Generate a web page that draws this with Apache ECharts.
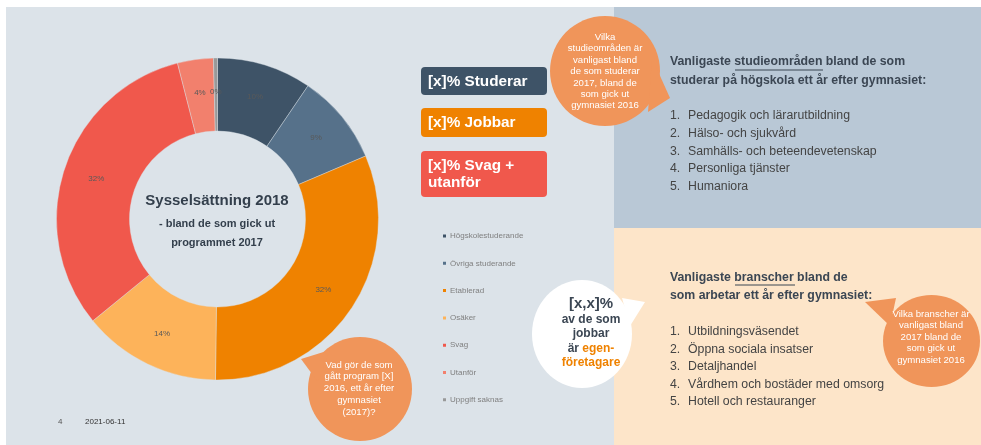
<!DOCTYPE html>
<html>
<head>
<meta charset="utf-8">
<script src="https://cdn.jsdelivr.net/npm/echarts@6/dist/echarts.min.js"></script>
<style>
html, body { margin: 0; padding: 0; background: #fff; }
#chart { width: 981px; height: 445px; }
</style>
</head>
<body>
<div id="chart"></div>
<script>
// data
const categories = ['Högskolestuderande', 'Övriga studerande', 'Etablerad', 'Osäker', 'Svag', 'Utanför', 'Uppgift saknas'];
const shares = [9.5, 9.1, 31.6, 13.9, 31.9, 3.6, 0.4];
const colors = ['#3e5367', '#56718a', '#ef8200', '#fdb35a', '#f0584c', '#f2806d', '#999999'];

const summaryBoxes = ['[x]% Studerar', '[x]% Jobbar', '[x]% Svag +\nutanför'];
const boxColors = ['#3e5367', '#ef8200', '#f0584c'];

const studyHeading = ['Vanligaste studieområden bland de som', 'studerar på högskola ett år efter gymnasiet:'];
const studyAreas = ['Pedagogik och lärarutbildning', 'Hälso- och sjukvård', 'Samhälls- och beteendevetenskap', 'Personliga tjänster', 'Humaniora'];
const industryHeading = ['Vanligaste branscher bland de', 'som arbetar ett år efter gymnasiet:'];
const industries = ['Utbildningsväsendet', 'Öppna sociala insatser', 'Detaljhandel', 'Vårdhem och bostäder med omsorg', 'Hotell och restauranger'];

const bubbleTop = 'Vilka\nstudieområden är\nvanligast bland\nde som studerar\n2017, bland de\nsom gick ut\ngymnasiet 2016';
const bubbleLeft = 'Vad gör de som\ngått program [X]\n2016, ett år efter\ngymnasiet\n(2017)?';
const bubbleRight = 'Vilka branscher är\nvanligast bland\n2017 bland de\nsom gick ut\ngymnasiet 2016';

const FONT = '"Liberation Sans", Arial, sans-serif';
const DARK = '#3b4653';
const BUBBLE = '#f0955a';

let chart = echarts.init(document.getElementById('chart'));

function txt(x, y, text, size, opts) {
    return {
        type: 'text', x: x, y: y, z: 10,
        style: Object.assign({
            text: text, fontSize: size, fontFamily: FONT, fill: DARK,
            verticalAlign: 'middle'
        }, opts || {})
    };
}

let elements = [
    // slide panels
    { type: 'rect', z: -10, shape: { x: 6, y: 7, width: 608, height: 438 }, style: { fill: '#dce3e9' } },
    { type: 'rect', z: -10, shape: { x: 614, y: 7, width: 367, height: 221 }, style: { fill: '#b9c8d6' } },
    { type: 'rect', z: -10, shape: { x: 614, y: 228, width: 367, height: 217 }, style: { fill: '#fde5c9' } },

    // donut centre text
    txt(217, 201, 'Sysselsättning 2018', 15, { fontWeight: 'bold', align: 'center', fill: '#333f4c' }),
    txt(217, 233.5, '- bland de som gick ut\nprogrammet 2017', 11, { fontWeight: 'bold', align: 'center', fill: '#333f4c', lineHeight: 19 }),

    // footer
    txt(58, 422, '4', 8, { fill: '#555' }),
    txt(85, 422, '2021-06-11', 8, { fill: '#333' })
];

// summary boxes
const boxY = [[67, 28], [108, 29], [151, 46]];
summaryBoxes.forEach(function (label, i) {
    elements.push({ type: 'rect', z: 5, shape: { x: 421, y: boxY[i][0], width: 126, height: boxY[i][1], r: 4 }, style: { fill: boxColors[i] } });
    elements.push(txt(428, boxY[i][0] + boxY[i][1] / 2 + 0.5, label, 15.3, { fontWeight: 'bold', fill: '#fff', lineHeight: 17 }));
});

// right panels
elements.push(txt(670, 71.5, studyHeading.join('\n'), 12.3, { fontWeight: 'bold', lineHeight: 19 }));
elements.push({ type: 'line', z: 10, shape: { x1: 735, y1: 70, x2: 823, y2: 70 }, style: { stroke: DARK, lineWidth: 1 } });
studyAreas.forEach(function (s, i) {
    let y = 116 + i * 17.6;
    elements.push(txt(670, y, (i + 1) + '.', 12.3, { fill: '#444' }));
    elements.push(txt(688, y, s, 12.3, { fill: '#444' }));
});
elements.push(txt(670, 287, industryHeading.join('\n'), 12.3, { fontWeight: 'bold', lineHeight: 18 }));
elements.push({ type: 'line', z: 10, shape: { x1: 735, y1: 285, x2: 795, y2: 285 }, style: { stroke: DARK, lineWidth: 1 } });
industries.forEach(function (s, i) {
    let y = 332 + i * 17.5;
    elements.push(txt(670, y, (i + 1) + '.', 12.3, { fill: '#444' }));
    elements.push(txt(688, y, s, 12.3, { fill: '#444' }));
});

// speech bubbles
function bubble(cx, cy, rx, ry, tail, fill, z) {
    elements.push({ type: 'ellipse', z: z, shape: { cx: cx, cy: cy, rx: rx, ry: ry }, style: { fill: fill } });
    elements.push({ type: 'polygon', z: z, shape: { points: tail }, style: { fill: fill } });
}
bubble(605, 71, 55, 55, [[652, 58], [670, 98], [648, 112]], BUBBLE, 8);
elements.push(txt(605, 71.5, bubbleTop, 9.6, { align: 'center', fill: '#fff', lineHeight: 11.4 }));

bubble(360, 389, 52, 52, [[301, 359], [330, 350], [318, 382]], BUBBLE, 8);
elements.push(txt(359, 388.5, bubbleLeft, 9.6, { align: 'center', fill: '#fff', lineHeight: 11.7 }));

bubble(931.5, 341, 48.5, 46, [[865, 302], [896, 298], [890, 326]], BUBBLE, 8);
elements.push(txt(931, 337, bubbleRight, 9.6, { align: 'center', fill: '#fff', lineHeight: 11.5 }));

bubble(582, 334, 50, 54, [[622, 298], [645, 302], [630, 326]], '#ffffff', 8);
elements.push({
    type: 'text', x: 591, y: 333, z: 10,
    style: {
        text: '{a|[x,x]%}\n{b|av de som}\n{b|jobbar}\n{b|är }{o|egen-}\n{o|företagare}',
        align: 'center', verticalAlign: 'middle', fontFamily: FONT,
        rich: {
            a: { fontSize: 15, fontWeight: 'bold', fill: DARK, lineHeight: 16, fontFamily: FONT },
            b: { fontSize: 12, fontWeight: 'bold', fill: DARK, lineHeight: 14.5, fontFamily: FONT },
            o: { fontSize: 12, fontWeight: 'bold', fill: '#ef8200', lineHeight: 14.5, fontFamily: FONT }
        }
    }
});

let option = {
    animation: false,
    color: colors,
    textStyle: { fontFamily: FONT },
    legend: {
        orient: 'vertical',
        left: 436,
        top: 226,
        itemWidth: 5,
        itemHeight: 5,
        itemGap: 17.3,
        icon: 'rect',
        selectedMode: false,
        textStyle: { fontSize: 8, color: '#7f7f7f', lineHeight: 10, padding: [0, 0, 0, -2] },
        data: categories
    },
    graphic: { elements: elements },
    series: [{
        type: 'pie',
        center: [217.5, 219],
        radius: [88, 161],
        startAngle: 90,
        clockwise: true,
        silent: true,
        itemStyle: { borderColor: '#dce3e9', borderWidth: 0.4 },
        label: {
            show: true,
            position: 'inside',
            fontSize: 8,
            color: '#595959',
            fontFamily: FONT,
            formatter: function (p) { return Math.round(p.value) + '%'; }
        },
        labelLine: { show: false },
        emphasis: { disabled: true },
        data: categories.map(function (name, i) {
            return { name: name, value: shares[i] };
        })
    }]
};

chart.setOption(option);
</script>
</body>
</html>
